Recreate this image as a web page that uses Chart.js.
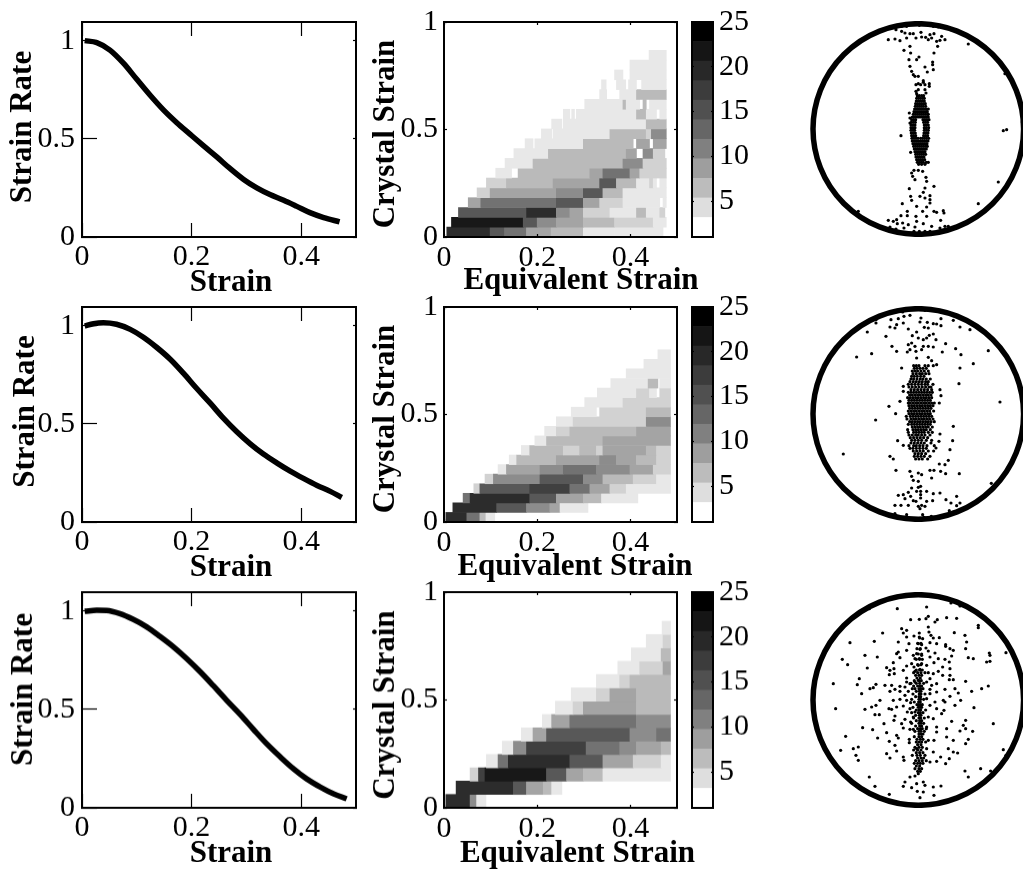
<!DOCTYPE html>
<html>
<head>
<meta charset="utf-8">
<title>Strain panels</title>
<script src="https://cdn.jsdelivr.net/npm/chart.js@4"></script>
<style>
  html, body { margin: 0; padding: 0; background: #fff; overflow: hidden; }
  #page { position: relative; width: 1023px; height: 869px; overflow: hidden; }
  canvas { position: absolute; }
</style>
</head>
<body>
<div id="page"></div>
<script>
// tick labels
const strainTicks = [0, 0.2, 0.4];
const rateTicks = [0, 0.5, 1];
const crystalTicks = [0, 0.5, 1];
const barTicks = [5, 10, 15, 20, 25];

// strain rate curves
const strain1 = [0.005, 0.027, 0.051, 0.076, 0.1, 0.124, 0.149, 0.173, 0.197, 0.222, 0.246, 0.27, 0.295, 0.319, 0.343, 0.368, 0.392, 0.416, 0.441, 0.47];
const rate1 = [1, 0.99, 0.952, 0.884, 0.803, 0.723, 0.646, 0.582, 0.524, 0.464, 0.408, 0.349, 0.293, 0.25, 0.216, 0.187, 0.156, 0.124, 0.099, 0.077];
const strain2 = [0.005, 0.021, 0.039, 0.063, 0.088, 0.112, 0.136, 0.161, 0.185, 0.209, 0.234, 0.258, 0.282, 0.307, 0.331, 0.356, 0.38, 0.404, 0.429, 0.453, 0.474];
const rate2 = [0.998, 1.01, 1.015, 1.007, 0.981, 0.941, 0.89, 0.829, 0.758, 0.681, 0.605, 0.529, 0.461, 0.398, 0.346, 0.3, 0.259, 0.222, 0.186, 0.156, 0.125];
const strain3 = [0.005, 0.027, 0.045, 0.069, 0.094, 0.118, 0.142, 0.167, 0.191, 0.216, 0.24, 0.264, 0.289, 0.313, 0.337, 0.362, 0.386, 0.41, 0.435, 0.459, 0.483];
const rate3 = [0.998, 1.003, 1.002, 0.986, 0.956, 0.919, 0.871, 0.817, 0.758, 0.69, 0.619, 0.546, 0.473, 0.398, 0.325, 0.258, 0.198, 0.147, 0.105, 0.071, 0.046];

// colour bar: count at the band edges and the grey of each band
const bandEdges = [1, 3.18, 5.36, 7.55, 9.73, 11.91, 14.09, 16.27, 18.45, 20.64, 22.82, 25];
const greyBands = ['#ffffff', '#dedede', '#bcbcbc', '#9e9e9e', '#808080', '#666666', '#505050', '#3c3c3c', '#282828', '#151515', '#000000'];
// the histogram cells print a fine hatch, so per band they average out lighter than the bar
const cellGreys = ['#ffffff', '#e8e8e8', '#d2d2d2', '#bababa', '#a4a4a4', '#8c8c8c', '#727272', '#585858', '#404040', '#2c2c2c', '#181818'];

// histograms: one list per crystal strain row, each run is [from strain, to strain, band]
const rowHeight1 = 0.0457;
const heat1 = [
  [[0.006, 0.099, 9], [0.099, 0.13, 7], [0.13, 0.177, 6], [0.177, 0.23, 4], [0.23, 0.299, 3], [0.299, 0.366, 1], [0.366, 0.47, 1]],
  [[0.016, 0.17, 10], [0.17, 0.2, 7], [0.2, 0.241, 5], [0.241, 0.299, 4], [0.299, 0.366, 3], [0.366, 0.449, 2], [0.449, 0.477, 1]],
  [[0.031, 0.177, 7], [0.177, 0.241, 9], [0.241, 0.27, 5], [0.27, 0.299, 4], [0.299, 0.356, 2], [0.356, 0.413, 1], [0.413, 0.434, 3], [0.434, 0.463, 1], [0.463, 0.474, 2]],
  [[0.052, 0.079, 4], [0.079, 0.241, 6], [0.241, 0.299, 7], [0.299, 0.334, 4], [0.334, 0.384, 2], [0.384, 0.463, 1], [0.47, 0.477, 1]],
  [[0.071, 0.099, 2], [0.099, 0.241, 4], [0.241, 0.299, 5], [0.299, 0.341, 7], [0.341, 0.384, 3], [0.384, 0.477, 1]],
  [[0.091, 0.134, 2], [0.134, 0.234, 3], [0.234, 0.334, 4], [0.334, 0.37, 7], [0.37, 0.413, 3], [0.413, 0.441, 1], [0.441, 0.449, 2], [0.449, 0.456, 1], [0.463, 0.477, 1]],
  [[0.111, 0.145, 1], [0.159, 0.313, 3], [0.313, 0.341, 4], [0.341, 0.399, 6], [0.399, 0.42, 4], [0.42, 0.477, 2]],
  [[0.131, 0.191, 1], [0.191, 0.384, 3], [0.384, 0.427, 5], [0.427, 0.477, 2]],
  [[0.15, 0.224, 1], [0.224, 0.391, 3], [0.391, 0.413, 4], [0.427, 0.449, 5], [0.449, 0.474, 2]],
  [[0.174, 0.191, 1], [0.195, 0.299, 1], [0.299, 0.406, 3], [0.413, 0.441, 4], [0.449, 0.477, 4]],
  [[0.209, 0.231, 1], [0.234, 0.356, 1], [0.356, 0.434, 3], [0.434, 0.445, 2], [0.445, 0.477, 5]],
  [[0.231, 0.253, 1], [0.256, 0.434, 1], [0.434, 0.477, 3]],
  [[0.256, 0.27, 1], [0.274, 0.28, 1], [0.284, 0.413, 1], [0.413, 0.434, 3], [0.434, 0.456, 1], [0.463, 0.477, 1]],
  [[0.302, 0.384, 1], [0.384, 0.39, 3], [0.391, 0.42, 1], [0.427, 0.434, 3], [0.441, 0.477, 1]],
  [[0.334, 0.349, 1], [0.377, 0.413, 1], [0.413, 0.477, 3]],
  [[0.338, 0.348, 1], [0.37, 0.39, 1], [0.396, 0.413, 1], [0.424, 0.477, 1]],
  [[0.366, 0.384, 1], [0.399, 0.477, 1]],
  [[0.399, 0.477, 1]],
  [[0.44, 0.477, 1]],
];
const rowHeight2 = 0.0445;
const heat2 = [
  [[0.004, 0.049, 9], [0.049, 0.077, 6], [0.077, 0.09, 3], [0.09, 0.109, 1]],
  [[0.019, 0.113, 9], [0.113, 0.177, 7], [0.177, 0.227, 5], [0.227, 0.249, 4], [0.249, 0.309, 1]],
  [[0.041, 0.056, 6], [0.056, 0.184, 9], [0.184, 0.241, 7], [0.241, 0.299, 4], [0.299, 0.338, 3], [0.338, 0.416, 1]],
  [[0.064, 0.077, 2], [0.077, 0.184, 7], [0.184, 0.27, 8], [0.27, 0.313, 6], [0.313, 0.356, 4], [0.356, 0.391, 2], [0.391, 0.486, 1]],
  [[0.088, 0.106, 2], [0.106, 0.206, 5], [0.206, 0.299, 7], [0.299, 0.341, 5], [0.341, 0.406, 3], [0.406, 0.456, 2], [0.456, 0.486, 1]],
  [[0.116, 0.134, 1], [0.134, 0.206, 4], [0.206, 0.256, 5], [0.256, 0.327, 6], [0.327, 0.399, 5], [0.399, 0.449, 4], [0.449, 0.486, 2]],
  [[0.14, 0.156, 1], [0.156, 0.241, 3], [0.241, 0.334, 4], [0.334, 0.37, 5], [0.37, 0.413, 4], [0.413, 0.456, 3], [0.456, 0.486, 2]],
  [[0.166, 0.184, 1], [0.184, 0.256, 3], [0.256, 0.291, 2], [0.291, 0.327, 3], [0.327, 0.341, 2], [0.341, 0.434, 4], [0.434, 0.456, 3], [0.456, 0.486, 2]],
  [[0.195, 0.22, 1], [0.22, 0.341, 3], [0.341, 0.486, 4]],
  [[0.216, 0.241, 1], [0.241, 0.27, 2], [0.27, 0.413, 3], [0.413, 0.486, 4]],
  [[0.241, 0.277, 1], [0.277, 0.434, 2], [0.434, 0.486, 5]],
  [[0.273, 0.327, 1], [0.334, 0.434, 2], [0.434, 0.486, 3]],
  [[0.302, 0.384, 1], [0.384, 0.486, 2]],
  [[0.329, 0.413, 1], [0.413, 0.441, 2], [0.441, 0.456, 1], [0.463, 0.486, 2]],
  [[0.358, 0.438, 1], [0.438, 0.459, 3], [0.463, 0.486, 1]],
  [[0.391, 0.486, 1]],
  [[0.429, 0.486, 1]],
  [[0.459, 0.486, 1]],
];
const rowHeight3 = 0.0618;
const heat3 = [
  [[0.004, 0.056, 9], [0.056, 0.07, 5], [0.07, 0.09, 1]],
  [[0.026, 0.149, 9], [0.149, 0.177, 7], [0.177, 0.213, 4], [0.213, 0.231, 3], [0.231, 0.253, 1]],
  [[0.056, 0.074, 2], [0.074, 0.088, 8], [0.088, 0.22, 10], [0.22, 0.263, 7], [0.263, 0.299, 4], [0.299, 0.341, 3], [0.341, 0.486, 1]],
  [[0.091, 0.116, 1], [0.116, 0.138, 6], [0.138, 0.27, 9], [0.27, 0.341, 7], [0.341, 0.406, 4], [0.406, 0.466, 2], [0.466, 0.486, 1]],
  [[0.125, 0.149, 1], [0.149, 0.177, 5], [0.177, 0.305, 8], [0.305, 0.377, 6], [0.377, 0.413, 5], [0.413, 0.466, 4], [0.466, 0.486, 3]],
  [[0.166, 0.191, 1], [0.191, 0.22, 4], [0.22, 0.399, 7], [0.399, 0.456, 5], [0.456, 0.486, 6]],
  [[0.211, 0.231, 1], [0.231, 0.27, 4], [0.27, 0.413, 6], [0.413, 0.486, 5]],
  [[0.239, 0.277, 1], [0.277, 0.299, 2], [0.299, 0.413, 4], [0.413, 0.486, 3]],
  [[0.273, 0.327, 1], [0.327, 0.356, 2], [0.356, 0.413, 4], [0.413, 0.486, 3]],
  [[0.327, 0.377, 1], [0.377, 0.399, 2], [0.399, 0.486, 3]],
  [[0.373, 0.42, 1], [0.42, 0.47, 2], [0.47, 0.486, 4]],
  [[0.402, 0.466, 1], [0.466, 0.486, 3]],
  [[0.434, 0.47, 1], [0.47, 0.486, 2]],
  [[0.468, 0.486, 1]],
];

// pole figures, projection units with the circle centred on 0,0
// scattered grains are [x, y]; dense grains are [y, [x, x, ...]]
const pole1Sparse = [[-90,268],[-70,270],[-55,265],[-35,273],[-25,286],[-40,288],[-50,293],[-67,298],[-67,306],[-85,303],[-50,308],[-35,308],[3,311],[45,308],[60,306],[73,308],[97,298],[8,290],[-15,286],[10,276],[-7,273],[22,275],[30,268],[35,283],[47,286],[40,273],[55,263],[65,266],[80,268],[70,278],[150,255],[58,248],[-43,236],[-25,248],[-23,228],[47,228],[-28,208],[-5,208],[2,216],[43,201],[43,193],[-25,188],[20,186],[45,178],[27,171],[-20,173],[-15,163],[-10,158],[0,158],[260,166],
  [15,145],[-7,133],[0,136],[7,133],[15,140],[20,133],[33,136],[33,128],[-7,113],[0,118],[-5,106],[20,118],[23,108],
  [-27,48],[-25,33],[-25,18],[30,60],[-52,-20],[-23,-70],[255,-5],[265,-2],[310,70],[312,21],[312,-55],[240,-159],[180,-224],[-180,-247],
  [-13,-124],[-20,-132],[0,-124],[13,-127],[-17,-142],[-10,-152],[23,-145],[25,-157],[47,-172],[20,-177],[15,-190],[-27,-179],[35,-200],[35,-212],[-23,-202],[5,-202],[-20,-214],[20,-207],[-48,-224],[-5,-232],[35,-222],[25,-234],[13,-247],[-33,-247],[47,-247],[55,-250],[75,-245],[77,-252],[-33,-260],[-7,-262],[25,-262],[-52,-260],[-90,-274],[-75,-277],[-65,-272],[-63,-284],[-47,-282],[-5,-277],[15,-284],[67,-274],[-85,-294],[-67,-300],[-43,-297],[-30,-287],[-10,-294],[-13,-307],[3,-307],[20,-307],[35,-307],[40,-292],[65,-297],[80,-292],[90,-292],[110,-294]];
const pole1Dense = [[100,[-3,3,10,16]],[92,[-5,1,7,13,18]],[84,[-6,0,6,12,18]],[76,[-8,-2,4,10,16,21]],[68,[-9,-3,3,9,15,22]],[60,[-11,-5,1,7,13,19,25]],[52,[-13,-7,-1,5,11,17,23,27]],[44,[-15,-9,-3,3,9,15,21,27,30]],[36,[-18,-12,-6,0,6,12,18,24,30]],[28,[-20,-14,-8,14,20,26,32]],[20,[-21,-15,-9,16,22,28]],[12,[-22,-16,-10,18,24,30]],[4,[-22,-16,-10,18,24,31]],[-4,[-22,-16,-11,18,24,30]],[-12,[-21,-15,-9,17,23,29]],[-20,[-20,-14,-8,16,22,28]],[-28,[-19,-13,-7,-1,7,13,19,25,31]],[-36,[-18,-12,-6,0,6,12,18,24,29]],[-44,[-16,-10,-4,2,8,14,20,26]],[-52,[-14,-8,-2,4,10,16,22,27]],[-60,[-12,-6,0,6,12,18,24]],[-68,[-10,-4,2,8,14,20]],[-76,[-8,-2,4,10,16,22]],[-84,[-7,-1,5,11,17]],[-92,[-5,1,7,13,19]],[-100,[-3,3,9,15,24,30]],[-106,[1,10,20]]];
const pole2Sparse = [[-47,306],[-43,293],[-25,296],[20,311],[32,311],[-127,283],[-127,273],[-82,283],[-60,286],[-65,268],[-85,261],[-70,258],[-45,273],[-30,255],[8,288],[5,276],[27,275],[45,271],[55,270],[68,286],[68,265],[18,260],[30,258],[105,281],[125,261],[155,253],[-153,246],[-97,233],[-5,246],[-18,235],[45,240],[33,236],[0,228],[15,223],[25,228],[53,223],[-20,213],[-30,208],[-10,203],[15,203],[30,203],[-25,193],[-33,186],[-7,188],[10,193],[45,201],[82,211],[112,196],[72,186],[128,178],[-79,203],[-65,188],[-140,181],[-185,171],[210,190],[165,151],[125,138],[122,91],[245,36],[-88,23],[-68,1],[-128,-18],[-225,-120],[-85,-127],[-75,-135],[-62,-80],[-45,-94],[105,-37],[103,-80],[95,-107],[90,-139],[80,-152],[63,-150],[-67,-169],[67,-172],[82,-179],[123,-179],[219,-208],[-5,168],[-50,138],[30,170],[40,160],[55,148],[65,73],[68,55],[63,33],[-45,83],[-45,68],[-55,38],[65,-60],[62,-82],[53,-102],
  [-25,-172],[-20,-187],[-15,-199],[0,-177],[10,-182],[35,-169],[47,-169],[40,-192],[0,-202],[7,-217],[0,-220],[-20,-222],[-30,-235],[-5,-232],[7,-232],[7,-242],[25,-232],[45,-239],[65,-237],[-60,-244],[-45,-242],[-40,-254],[-23,-247],[7,-252],[-15,-260],[-7,-262],[25,-262],[43,-260],[83,-257],[115,-247],[98,-267],[125,-267],[-70,-274],[-52,-274],[-30,-274],[0,-277],[10,-274],[20,-277],[5,-284],[115,-275],[93,-290],[105,-294],[-70,-299],[-35,-302],[-40,-310],[13,-302],[17,-310],[39,-307]];
const pole2Dense = [[145,[-14,-6,2,20,30,45]],[137,[-12,-4,5,14,24]],[129,[-18,-10,-2,8,18,30]],[121,[-16,-6,4,12,22,32]],[113,[-20,-12,-3,7,17]],[105,[-22,-14,-4,6,14,24,36]],[97,[-25,-15,-6,3,12,22,30]],[89,[-30,-20,-10,0,10,20,28,44]],[81,[-28,-18,-8,2,12,22,32,38]],[73,[-22,-12,-2,8,18,28,40]],[65,[-30,-22,-14,-6,2,10,18,26,34,42]],[57,[-26,-18,-10,-2,6,14,22,30,38]],[49,[-32,-24,-16,-8,0,8,16,24,32,40]],[41,[-28,-20,-12,-4,4,12,20,28,36]],[33,[-30,-24,-16,-8,0,8,16,24,32,40,48]],[25,[-28,-20,-12,-4,4,12,20,28,36,44]],[17,[-26,-18,-10,-2,6,14,22,30,38]],[9,[-30,-22,-14,-6,2,10,18,26,34,46]],[1,[-28,-20,-12,-4,4,12,20,28,36]],[-7,[-36,-24,-16,-8,0,8,16,24,32,40]],[-15,[-34,-22,-14,-6,2,10,18,26,34,44]],[-23,[-26,-18,-10,-2,6,14,22,30,38,48]],[-31,[-30,-20,-12,-4,4,12,20,28,36]],[-39,[-18,-10,-2,6,14,22,30,42]],[-47,[-32,-16,-8,0,8,16,24,36]],[-55,[-30,-14,-6,2,10,18,30,42]],[-63,[-28,-18,-8,0,10,20,35]],[-71,[-24,-14,-4,6,16,28]],[-79,[-20,-10,0,10,24,40]],[-87,[-22,-12,-2,8,18,38]],[-95,[-28,-14,-6,4,14,26,48]],[-103,[-25,-16,-6,4,14,24]],[-111,[-15,-5,5,15,30,46]],[-119,[-10,0,10,22]],[-127,[-12,-2,8,18,35]],[-135,[-8,2,12,28]]];
const pole3Sparse = [[98,291],[125,282],[25,279],[-63,274],[-147,274],[-23,241],[3,242],[23,244],[30,251],[57,241],[50,234],[85,247],[115,245],[180,224],[180,217],[30,219],[32,204],[-50,214],[-35,209],[-45,201],[-107,201],[108,202],[140,194],[-35,189],[-13,192],[3,201],[3,189],[13,184],[38,194],[45,186],[63,187],[-205,172],[-132,176],[-60,174],[-28,169],[0,169],[10,166],[35,172],[55,169],[82,166],[82,161],[145,174],[142,154],[95,154],[105,149],[-35,149],[-60,144],[5,152],[23,156],[30,147],[50,141],[263,142],[213,141],[215,134],[-160,134],[-123,129],[-65,139],[-55,127],[-75,112],[-15,134],[-5,139],[10,134],[-10,124],[3,124],[35,129],[60,124],[100,132],[93,114],[150,127],[165,124],[-228,122],[-212,106],[-153,96],[215,116],[205,114],[-95,97],[-85,89],[-73,94],[-35,102],[-45,89],[-20,109],[-13,99],[0,104],[10,109],[25,104],[47,112],[73,99],[60,86],[80,122],[-87,76],[-72,79],[-35,66],[-10,86],[5,92],[30,82],[45,79],[95,94],[73,74],[93,61],[105,61],[95,74],
  [-177,64],[-183,46],[-127,47],[-145,34],[-135,37],[-255,49],[-170,19],[-100,44],[-80,44],[-85,26],[-70,32],[-55,41],[-55,26],[-35,54],[-40,39],[-25,49],[-10,54],[0,59],[-10,34],[-30,26],[25,54],[35,64],[40,44],[55,49],[35,32],[55,24],[80,32],[110,34],[142,56],[160,26],[190,34],[210,42],[120,21],[95,11],[75,-1],[50,-6],[25,4],[35,19],[-40,14],[-75,-1],[-55,2],[-35,-1],[-23,-8],[-115,-1],[-127,-16],[-140,-21],[-88,-26],[-80,-28],[-160,-28],[-248,-26],[-65,-21],[-45,-18],[-25,-26],[-10,-36],[35,-16],[55,-26],[80,-6],[77,-31],[110,-16],[167,-23],[127,-1],
  [-130,-44],[-117,-44],[-70,-48],[-33,-36],[-40,-58],[-50,-71],[-73,-61],[-103,-71],[-23,-66],[-15,-51],[30,-51],[45,-56],[70,-41],[100,-64],[142,-61],[135,-76],[225,-71],[-167,-83],[-137,-89],[-95,-98],[-45,-84],[-25,-88],[-15,-88],[25,-81],[55,-81],[55,-96],[85,-86],[125,-93],[142,-86],[163,-94],[-122,-114],[-218,-109],[-65,-106],[-60,-114],[-87,-124],[-27,-118],[-27,-128],[30,-121],[47,-121],[85,-111],[105,-121],[150,-118],[142,-131],[-70,-136],[-65,-153],[-95,-161],[-85,-174],[-45,-171],[-43,-181],[-5,-146],[25,-146],[45,-156],[90,-146],[105,-156],[118,-159],[67,-171],[93,-176],[55,-184],[82,-191],[-233,-151],[-195,-146],[-180,-141],[-187,-166],[-180,-181],[255,-149],[263,-166],[35,-186],[140,-213],[187,-206],[217,-213],[150,-231],[-147,-231],[-130,-259],[-40,-246],[-45,-259],[-10,-228],[0,-221],[15,-246],[-25,-231],[-5,-251],[20,-256],[45,-261],[68,-258],[-20,-263],[-3,-274],[15,-276],[-87,-283],[47,-286],[5,-293]];
const pole3Dense = [[186,[4]],[170,[-2,8]],[154,[-4,6]],[138,[0,10]],[122,[-6,4,12]],[106,[-2,8]],[90,[-6,4,12]],[82,[-14,-2,8,20]],[74,[-8,2,10]],[66,[-4,6]],[58,[-12,2,9]],[50,[-22,-6,4,16]],[42,[-14,-2,6,10]],[34,[-18,2,7,14]],[26,[-6,3,8]],[18,[-16,3,8,20]],[10,[-8,2,7]],[2,[-20,2,7,16]],[-6,[-12,1,6]],[-14,[-4,1,6,12]],[-22,[-16,0,5,10]],[-30,[-6,2,7,22]],[-38,[-20,0,6,14]],[-46,[-8,3,8]],[-54,[-14,2,7,18]],[-62,[-6,4,10]],[-70,[-20,2,8,16]],[-78,[-8,4,10]],[-86,[-2,6,12,24]],[-94,[-10,2,8,18]],[-102,[2,8,14]],[-110,[-12,2,10]],[-118,[-4,6,14]],[-126,[-6,2,10,22]],[-134,[-2,8]],[-142,[-10,2,12]],[-150,[-14,-2,8]],[-158,[-6,4,14]],[-166,[-18,-4,6,20]],[-174,[-2,8,16]],[-182,[-8,2,12,24]],[-190,[-12,-2,6,14]],[-198,[-6,4]],[-206,[-10,2,10]],[-214,[-2,6]]];

const serif = '"Liberation Serif", "Times New Roman", serif';
Chart.defaults.font.family = serif;
Chart.defaults.color = '#000';

// rows of panels: top and bottom of the plot areas, and the title offsets read per row
const panelRows = [
  { top: 22, bottom: 237, poleY: 129.3, rateDy: -2.5, rateX: 23, strainBase: 54, crystalDy: 4.5, equivDx: 20.5, equivBase: 51.5 },
  { top: 307, bottom: 522, poleY: 414.3, rateDy: -3, rateX: 26, strainBase: 53.5, crystalDy: 4.5, equivDx: 14.5, equivBase: 53 },
  { top: 592, bottom: 807.5, poleY: 699.7, rateDy: -10.5, rateX: 24, strainBase: 54, crystalDy: 5, equivDx: 17, equivBase: 54 },
];

const page = document.querySelector('#page');

const addCanvas = (left, top, width, height) => {
  const canvas = document.createElement('canvas');
  canvas.width = width;
  canvas.height = height;
  canvas.style.left = left + 'px';
  canvas.style.top = top + 'px';
  canvas.style.width = width + 'px';
  canvas.style.height = height + 'px';
  page.appendChild(canvas);
  return canvas;
};

/**
 * One edge of a boxed plot. The edge gets a fixed thickness so the plot area lands where it should,
 * tick marks point into the plot (negative tickLength).
 */
const edgeAxis = ({ position, size, range, values, tickLength, labelGap }) => ({
  type: 'linear',
  position,
  offset: false,
  min: range[0],
  max: range[1],
  afterFit: (scale) => {
    if (position === 'top' || position === 'bottom') scale.height = size;
    else scale.width = size;
  },
  afterBuildTicks: (scale) => { scale.ticks = values.map(value => ({ value })); },
  border: { display: true, color: '#000', width: 2, z: 1 },
  grid: { display: true, offset: false, drawOnChartArea: false, drawTicks: true, tickLength: -tickLength, tickColor: '#000', tickWidth: 1.2, z: 1 },
  ticks: {
    display: labelGap !== undefined,
    padding: (labelGap || 0) + tickLength,
    font: { size: 30 },
    autoSkip: false,
    maxRotation: 0,
    callback: (value) => String(value),
  },
});

// axis titles sit off-centre in the picture, so they are placed by hand
const axisTitles = {
  id: 'axisTitles',
  afterDraw(chart, args, opts) {
    const { ctx, chartArea } = chart;
    ctx.save();
    ctx.fillStyle = '#000';
    ctx.font = 'bold 31px ' + serif;
    ctx.textAlign = 'center';
    ctx.textBaseline = 'alphabetic';
    ctx.fillText(opts.xText, (chartArea.left + chartArea.right) / 2 + opts.xDx, chartArea.bottom + opts.xBase);
    ctx.translate(opts.yX, (chartArea.top + chartArea.bottom) / 2 + opts.yDy);
    ctx.rotate(-Math.PI / 2);
    ctx.textBaseline = 'middle';
    ctx.fillText(opts.yText, 0, 0);
    ctx.restore();
  },
};

// autoPadding off: the pole circle is one big point and would otherwise squeeze the plot area away
const baseOptions = {
  responsive: false,
  animation: false,
  events: [],
  layout: { padding: 0, autoPadding: false },
};

const drawCurve = (row, xs, ys) => {
  const margin = { left: 82, right: 15, top: 44, bottom: 64 };
  const height = row.bottom - row.top + margin.top + margin.bottom;
  const canvas = addCanvas(0, row.top - margin.top, 82 + 274 + margin.right, height);
  const xRange = [0, 0.5];
  const yRange = [0, 1.095];
  new Chart(canvas, {
    type: 'line',
    plugins: [axisTitles],
    data: {
      datasets: [{
        data: xs.map((x, i) => ({ x, y: ys[i] })),
        borderColor: '#000',
        borderWidth: 5.5,
        pointRadius: 0,
        cubicInterpolationMode: 'monotone',
        xAxisID: 'x',
        yAxisID: 'y',
      }],
    },
    options: {
      ...baseOptions,
      plugins: {
        legend: { display: false },
        tooltip: { enabled: false },
        axisTitles: { xText: 'Strain', xDx: 12, xBase: row.strainBase, yText: 'Strain Rate', yX: row.rateX, yDy: row.rateDy },
      },
      scales: {
        x: edgeAxis({ position: 'bottom', size: margin.bottom, range: xRange, values: strainTicks, tickLength: 14, labelGap: 2 }),
        y: edgeAxis({ position: 'left', size: margin.left, range: yRange, values: rateTicks, tickLength: 15, labelGap: 7 }),
        xTop: edgeAxis({ position: 'top', size: margin.top, range: xRange, values: strainTicks, tickLength: 14 }),
        yRight: edgeAxis({ position: 'right', size: margin.right, range: yRange, values: rateTicks, tickLength: 3 }),
      },
    },
  });
};

const drawHeat = (row, runs, rowHeight) => {
  const margin = { left: 74, right: 40, top: 30, bottom: 64 };
  const height = row.bottom - row.top + margin.top + margin.bottom;
  const canvas = addCanvas(370, row.top - margin.top, 74 + 233 + margin.right, height);
  const xRange = [0, 0.5];
  const yRange = [0, 1];
  const cells = runs.flatMap((rowRuns, r) => rowRuns.map(([from, to, band]) => ({ x: [from, to], y: (r + 0.5) * rowHeight, band })));
  new Chart(canvas, {
    type: 'bar',
    plugins: [axisTitles],
    data: {
      datasets: [{
        data: cells,
        backgroundColor: cells.map(c => cellGreys[c.band]),
        borderWidth: 0,
        barPercentage: 1,
        categoryPercentage: 1,
        xAxisID: 'x',
        yAxisID: 'y',
      }],
    },
    options: {
      ...baseOptions,
      indexAxis: 'y',
      plugins: {
        legend: { display: false },
        tooltip: { enabled: false },
        axisTitles: { xText: 'Equivalent Strain', xDx: row.equivDx, xBase: row.equivBase, yText: 'Crystal Strain', yX: 16, yDy: row.crystalDy },
      },
      scales: {
        x: edgeAxis({ position: 'bottom', size: margin.bottom, range: xRange, values: strainTicks, tickLength: 3, labelGap: 3 }),
        y: edgeAxis({ position: 'left', size: margin.left, range: yRange, values: crystalTicks, tickLength: 3, labelGap: 6 }),
        xTop: edgeAxis({ position: 'top', size: margin.top, range: xRange, values: strainTicks, tickLength: 3 }),
        yRight: edgeAxis({ position: 'right', size: margin.right, range: yRange, values: crystalTicks, tickLength: 3 }),
      },
    },
  });
};

const drawColourBar = (row) => {
  const margin = { left: 7, right: 50, top: 30, bottom: 30 };
  const height = row.bottom - row.top + margin.top + margin.bottom;
  const canvas = addCanvas(685, row.top - margin.top, 7 + 21 + margin.right, height);
  const yRange = [bandEdges[0], bandEdges[bandEdges.length - 1]];
  new Chart(canvas, {
    type: 'bar',
    data: {
      labels: [''],
      datasets: greyBands.map((grey, i) => ({
        data: [[bandEdges[i], bandEdges[i + 1]]],
        backgroundColor: grey,
        borderWidth: 0,
        grouped: false,
        barPercentage: 1,
        categoryPercentage: 1,
        xAxisID: 'x',
        yAxisID: 'y',
      })),
    },
    options: {
      ...baseOptions,
      plugins: { legend: { display: false }, tooltip: { enabled: false } },
      scales: {
        x: {
          type: 'category',
          position: 'bottom',
          afterFit: (scale) => { scale.height = margin.bottom; },
          border: { display: true, color: '#000', width: 2, z: 1 },
          grid: { display: false },
          ticks: { display: false },
        },
        y: edgeAxis({ position: 'right', size: margin.right, range: yRange, values: barTicks, tickLength: 2, labelGap: 6 }),
        xTop: edgeAxis({ position: 'top', size: margin.top, range: [0, 1], values: [], tickLength: 0 }),
        yLeft: edgeAxis({ position: 'left', size: margin.left, range: yRange, values: barTicks, tickLength: 2 }),
      },
    },
  });
};

const drawPole = (row, sparse, dense) => {
  // one projection unit is a third of a pixel
  const canvasLeft = 800;
  const centreX = 918.3;
  const canvas = addCanvas(canvasLeft, Math.round(row.poleY) - 108, 1023 - canvasLeft, 216);
  const grains = sparse.map(([x, y]) => ({ x, y }))
    .concat(dense.flatMap(([y, xs]) => xs.map(x => ({ x, y }))));
  new Chart(canvas, {
    type: 'scatter',
    data: {
      datasets: [
        { data: [{ x: 0, y: 0 }], pointRadius: 105.3, pointBorderWidth: 5.5, pointBorderColor: '#000', pointBackgroundColor: 'rgba(0,0,0,0)', clip: false },
        { data: grains, pointRadius: 1.6, pointBorderWidth: 0, pointBackgroundColor: '#000', clip: false },
      ],
    },
    options: {
      ...baseOptions,
      plugins: { legend: { display: false }, tooltip: { enabled: false } },
      scales: {
        x: { type: 'linear', display: false, min: (canvasLeft - centreX) * 3, max: (1023 - centreX) * 3 },
        y: { type: 'linear', display: false, min: -324, max: 324 },
      },
    },
  });
};

window.onload = () => {
  drawCurve(panelRows[0], strain1, rate1);
  drawCurve(panelRows[1], strain2, rate2);
  drawCurve(panelRows[2], strain3, rate3);
  drawHeat(panelRows[0], heat1, rowHeight1);
  drawHeat(panelRows[1], heat2, rowHeight2);
  drawHeat(panelRows[2], heat3, rowHeight3);
  panelRows.forEach(row => drawColourBar(row));
  drawPole(panelRows[0], pole1Sparse, pole1Dense);
  drawPole(panelRows[1], pole2Sparse, pole2Dense);
  drawPole(panelRows[2], pole3Sparse, pole3Dense);
};
</script>
</body>
</html>
